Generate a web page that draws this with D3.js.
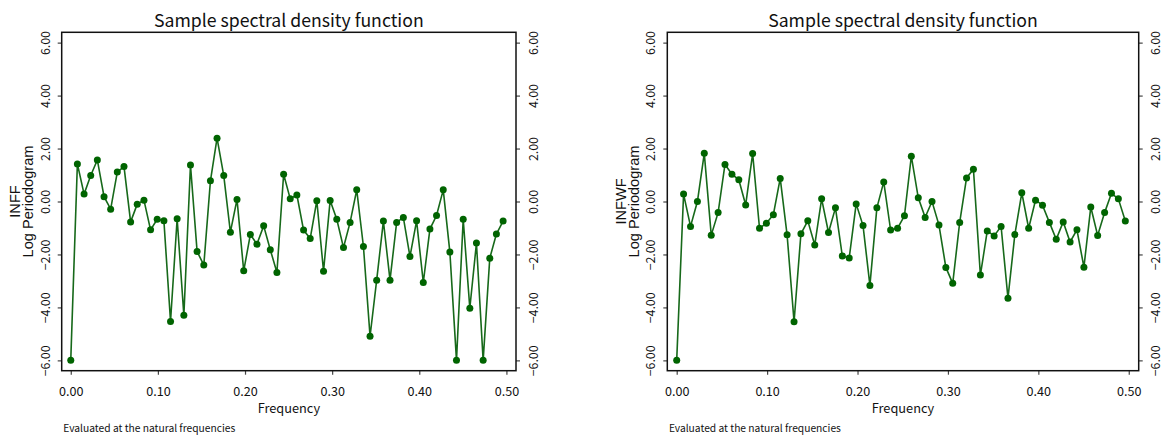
<!DOCTYPE html>
<html><head><meta charset="utf-8">
<script src="https://cdn.jsdelivr.net/npm/d3@7"></script>
<style>body{margin:0;background:#fff} svg{display:block}</style>
</head><body><svg id="c" width="1163" height="438"></svg>
<script>
// natural frequencies k/131
const freq = [0, 0.0076, 0.0153, 0.0229, 0.0305, 0.0382, 0.0458, 0.0534, 0.0611, 0.0687,
  0.0763, 0.0840, 0.0916, 0.0992, 0.1069, 0.1145, 0.1221, 0.1298, 0.1374, 0.1450,
  0.1527, 0.1603, 0.1679, 0.1756, 0.1832, 0.1908, 0.1985, 0.2061, 0.2137, 0.2214,
  0.2290, 0.2366, 0.2443, 0.2519, 0.2595, 0.2672, 0.2748, 0.2824, 0.2901, 0.2977,
  0.3053, 0.3130, 0.3206, 0.3282, 0.3359, 0.3435, 0.3511, 0.3588, 0.3664, 0.3740,
  0.3817, 0.3893, 0.3969, 0.4046, 0.4122, 0.4198, 0.4275, 0.4351, 0.4427, 0.4504,
  0.4580, 0.4656, 0.4733, 0.4809, 0.4885, 0.4962];
const inff = [-6.0, 1.42, 0.28, 0.98, 1.57, 0.18, -0.29, 1.11, 1.32, -0.77,
  -0.10, 0.05, -1.07, -0.67, -0.73, -4.53, -0.65, -4.30, 1.38, -1.89,
  -2.40, 0.78, 2.39, 0.98, -1.16, 0.08, -2.62, -1.25, -1.61, -0.92,
  -1.82, -2.68, 1.03, 0.10, 0.25, -1.08, -1.40, 0.03, -2.63, 0.04,
  -0.67, -1.74, -0.79, 0.44, -1.70, -5.09, -2.97, -0.74, -2.97, -0.79,
  -0.60, -2.08, -0.73, -3.06, -1.04, -0.53, 0.44, -1.91, -6.0, -0.67,
  -4.03, -1.57, -6.0, -2.14, -1.23, -0.74];
const infwf = [-6.0, 0.28, -0.94, 0.00, 1.82, -1.27, -0.42, 1.40, 1.03, 0.82,
  -0.13, 1.81, -1.01, -0.82, -0.50, 0.87, -1.26, -4.54, -1.22, -0.73,
  -1.64, 0.10, -1.17, -0.24, -2.06, -2.13, -0.09, -0.91, -3.17, -0.24,
  0.74, -1.08, -1.01, -0.54, 1.71, 0.14, -0.60, 0.00, -0.89, -2.49,
  -3.09, -0.79, 0.89, 1.22, -2.78, -1.11, -1.30, -0.94, -3.65, -1.25,
  0.33, -1.01, 0.05, -0.14, -0.79, -1.43, -0.77, -1.53, -1.07, -2.48,
  -0.21, -1.28, -0.42, 0.31, 0.10, -0.74];
const seriesNames = ["INFF", "INFWF"];
const yTicks = [-6, -4, -2, 0, 2, 4, 6];
const xTicks = [0, 0.1, 0.2, 0.3, 0.4, 0.5];
const chartTitle = "Sample spectral density function";
const yTitle = "Log Periodogram";
const xTitle = "Frequency";
const note = "Evaluated at the natural frequencies";

const svg = d3.select("#c");
const plotTop = 32.3, plotBottom = 370.7;
const panels = [
  {name: seriesNames[0], values: inff, left: 61.7, right: 516},
  {name: seriesNames[1], values: infwf, left: 667.3, right: 1138.7}
];
const fmt = d3.format(".2f");
const jp = "'Noto Sans CJK JP', 'Noto Sans', sans-serif";
const sans = "'Liberation Sans', Arial, sans-serif";

// scale a text's font size so that its rendered width equals the target width
function fitSize(sel, target) {
  const w = sel.node().getComputedTextLength();
  const fs = parseFloat(sel.attr("font-size"));
  const nfs = fs * target / w;
  sel.attr("font-size", nfs);
  return nfs;
}

panels.forEach(p => {
  const x = d3.scaleLinear().domain([-0.0104, 0.511]).range([p.left, p.right]);
  const y = d3.scaleLinear().domain([-6.39, 6.39]).range([plotBottom, plotTop]);
  const g = svg.append("g");
  const cx = (p.left + p.right) / 2, cy = (plotTop + plotBottom) / 2;

  const styleTicks = (a) => {
    a.select(".domain").remove();
    a.selectAll(".tick line").attr("stroke", "#444").attr("stroke-width", 1.2);
  };

  // left axis
  const ax = g.append("g").attr("transform", `translate(${p.left},0)`)
    .call(d3.axisLeft(y).tickValues(yTicks).tickFormat(fmt).tickSize(4).tickSizeOuter(0));
  styleTicks(ax);
  ax.selectAll(".tick text").attr("x", null).attr("dy", null)
    .attr("transform", "translate(-17,0) rotate(-90)")
    .attr("text-anchor", "middle").attr("dominant-baseline", "central")
    .attr("font-family", jp).attr("font-size", 15).attr("fill", "#111");
  const ySize = fitSize(ax.selectAll(".tick text").filter(d => d === 6), 24);
  ax.selectAll(".tick text").attr("font-size", ySize);

  // right axis
  const ar = g.append("g").attr("transform", `translate(${p.right},0)`)
    .call(d3.axisRight(y).tickValues(yTicks).tickFormat(fmt).tickSize(4).tickSizeOuter(0));
  styleTicks(ar);
  ar.selectAll(".tick text").attr("x", null).attr("dy", null)
    .attr("transform", "translate(16.5,0) rotate(-90)")
    .attr("text-anchor", "middle").attr("dominant-baseline", "central")
    .attr("font-family", jp).attr("font-size", ySize).attr("fill", "#111");

  // bottom axis
  const ab = g.append("g").attr("transform", `translate(0,${plotBottom})`)
    .call(d3.axisBottom(x).tickValues(xTicks).tickFormat(fmt).tickSize(4).tickSizeOuter(0));
  styleTicks(ab);
  ab.selectAll(".tick text").attr("y", 25).attr("dy", null)
    .attr("font-family", jp).attr("font-size", 15).attr("fill", "#111");
  const xSize = fitSize(ab.selectAll(".tick text").filter(d => d === 0), 24.5);
  ab.selectAll(".tick text").attr("font-size", xSize);

  // frame
  g.append("rect").attr("x", p.left).attr("y", plotTop)
    .attr("width", p.right - p.left).attr("height", plotBottom - plotTop)
    .attr("fill", "none").attr("stroke", "#111").attr("stroke-width", 1.5);

  // line + points
  const pts = freq.map((f, i) => [f, p.values[i]]);
  g.append("path").datum(pts)
    .attr("d", d3.line().x(d => x(d[0])).y(d => y(d[1])))
    .attr("fill", "none").attr("stroke", "#17691a").attr("stroke-width", 1.6);
  g.selectAll("circle.pt").data(pts).join("circle").attr("class", "pt")
    .attr("cx", d => x(d[0])).attr("cy", d => y(d[1])).attr("r", 3.5)
    .attr("fill", "#006400");

  // title
  const t = g.append("text").attr("x", cx).attr("y", 26.7).attr("text-anchor", "middle")
    .attr("font-family", jp).attr("font-size", 20).attr("fill", "#111").text(chartTitle);
  fitSize(t, 270);
  // y titles
  const yt1 = g.append("text").attr("transform", `translate(${p.left - 46.7},${cy}) rotate(-90)`)
    .attr("text-anchor", "middle").attr("dominant-baseline", "central")
    .attr("font-family", sans).attr("font-size", 14.5).attr("fill", "#111").text(p.name);
  const yt2 = g.append("text").attr("transform", `translate(${p.left - 33.4},${cy}) rotate(-90)`)
    .attr("text-anchor", "middle").attr("dominant-baseline", "central")
    .attr("font-family", sans).attr("font-size", 14.5).attr("fill", "#111").text(yTitle);
  const ys = fitSize(yt2, 112);
  yt1.attr("font-size", ys);
  // x title
  const xt = g.append("text").attr("x", cx).attr("y", 413.3).attr("text-anchor", "middle")
    .attr("font-family", jp).attr("font-size", 16).attr("fill", "#111").text(xTitle);
  fitSize(xt, 62.5);
  // note
  const nt = g.append("text").attr("x", p.left + 1.6).attr("y", 432.3)
    .attr("font-family", jp).attr("font-size", 11).attr("fill", "#111").text(note);
  fitSize(nt, 172);
});
</script></body></html>
